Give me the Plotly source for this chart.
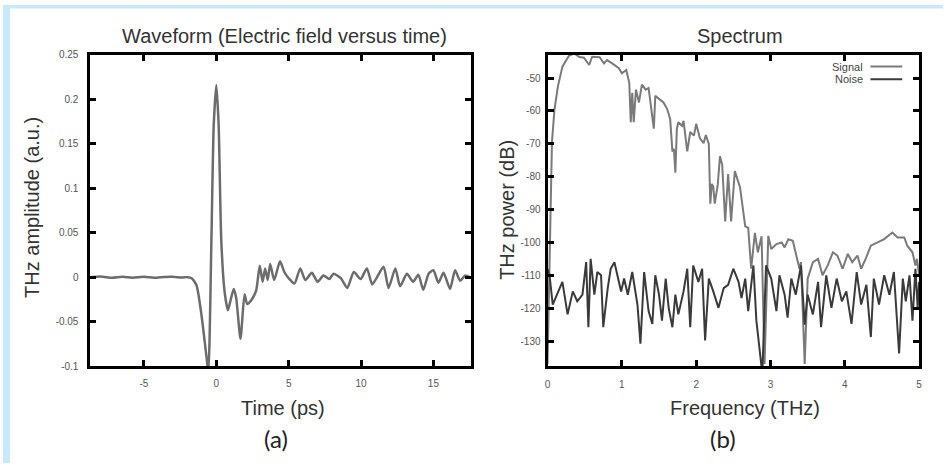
import plotly.graph_objects as go

# waveform (a)
time_ps = [-8.7, -8.0, -7.2, -6.5, -5.8, -5.0, -4.3, -3.6, -3.0, -2.4, -2.0, -1.7,
           -1.37, -1.03, -0.69, -0.55, -0.34, -0.18, 0.0, 0.16, 0.34, 0.57, 0.8, 0.98,
           1.2, 1.37, 1.67, 1.95, 2.13, 2.4, 2.75, 3.0, 3.2, 3.37, 3.55, 3.72, 4.0, 4.4,
           4.7, 5.0, 5.4, 5.8, 6.15, 6.6, 7.0, 7.4, 7.8, 8.1, 8.6, 9.05, 9.5, 9.97, 10.4,
           10.77, 11.1, 11.56, 11.9, 12.37, 12.7, 13.17, 13.6, 13.96, 14.3, 14.67, 15.0,
           15.35, 15.7, 16.15, 16.5, 16.85, 17.2, 17.6]
amplitude = [0.0, 0.0008, -0.0005, 0.0006, -0.0004, 0.0005, -0.0006, 0.0004, 0.0007,
             -0.0003, 0.0002, -0.001, -0.009, -0.042, -0.088, -0.106, 0.042, 0.171, 0.216,
             0.171, 0.042, -0.016, -0.037, -0.026, -0.013, -0.023, -0.069, -0.019, -0.03,
             -0.026, -0.015, 0.013, -0.005, 0.01, -0.003, 0.015, -0.003, 0.018, 0.006,
             -0.001, -0.007, 0.01, -0.003, 0.005, -0.005, 0.002, -0.002, 0.004, -0.001,
             -0.012, 0.006, -0.002, 0.01, -0.008, 0.0, 0.012, -0.012, 0.01, -0.01, 0.004,
             -0.005, 0.003, -0.014, 0.004, 0.008, -0.006, 0.005, -0.013, 0.008, -0.004,
             0.002, -0.001]

# spectrum (b)
freq_sig = [0.0, 0.015, 0.027, 0.04, 0.06, 0.094, 0.14, 0.2, 0.29, 0.36, 0.43, 0.49, 0.56,
            0.6, 0.7, 0.76, 0.8, 0.87, 0.96, 1.0, 1.06, 1.1, 1.12, 1.14, 1.16, 1.19, 1.23,
            1.27, 1.32, 1.36, 1.43, 1.45, 1.5, 1.56, 1.61, 1.65, 1.68, 1.7, 1.72, 1.74,
            1.76, 1.81, 1.83, 1.88, 1.92, 1.97, 2.0, 2.05, 2.1, 2.13, 2.17, 2.19, 2.21,
            2.23, 2.25, 2.29, 2.32, 2.35, 2.39, 2.43, 2.47, 2.52, 2.59, 2.66, 2.7, 2.74,
            2.79, 2.83, 2.88, 2.92, 2.97, 3.01, 3.08, 3.15, 3.19, 3.24, 3.3, 3.35, 3.39,
            3.41, 3.46, 3.5, 3.57, 3.64, 3.7, 3.77, 3.84, 3.9, 3.97, 4.04, 4.1, 4.17, 4.22,
            4.28, 4.35, 4.44, 4.53, 4.64, 4.71, 4.8, 4.84, 4.91, 4.95, 4.97, 5.0]
signal_db = [-137, -120, -99, -84, -69.3, -59.4, -52.5, -46.5, -43.1, -42.5, -43.6, -43.8,
             -46, -43.5, -43.6, -45.5, -44.5, -45.5, -47, -48.5, -47.5, -51.5, -63.4, -54.5,
             -63.4, -53.5, -57.4, -52, -53.5, -53, -65.4, -55.4, -56.4, -57.4, -59.4, -62.4,
             -72.3, -71.5, -78.8, -65.4, -63.4, -64.5, -63, -72.3, -66.4, -67.5, -63.9, -68.3,
             -69.8, -67.3, -70, -88.2, -82.2, -83, -88.2, -82.5, -73.8, -76.3, -93.6, -79.2,
             -93.6, -78.3, -83.2, -95.1, -95.6, -108, -97.1, -103, -98.1, -137, -98, -102,
             -100.5, -100, -101.5, -99, -99.5, -104, -108, -106, -137, -111, -106, -105,
             -110, -107, -103, -104, -108, -103.5, -106, -104, -108, -105, -101, -100, -99,
             -97, -98.5, -98.5, -101, -103, -107, -105, -110]

freq_noise = [0.0, 0.027, 0.07, 0.13, 0.2, 0.27, 0.34, 0.4, 0.47, 0.52, 0.55, 0.58, 0.63,
              0.67, 0.72, 0.75, 0.81, 0.85, 0.9, 0.94, 0.99, 1.03, 1.08, 1.14, 1.21, 1.25,
              1.3, 1.36, 1.41, 1.45, 1.5, 1.54, 1.59, 1.63, 1.68, 1.72, 1.76, 1.83, 1.88,
              1.92, 1.96, 2.03, 2.08, 2.12, 2.17, 2.23, 2.3, 2.37, 2.43, 2.5, 2.57, 2.61,
              2.66, 2.7, 2.77, 2.81, 2.86, 2.89, 2.94, 3.01, 3.08, 3.12, 3.19, 3.23, 3.28,
              3.34, 3.41, 3.46, 3.5, 3.57, 3.64, 3.68, 3.75, 3.82, 3.89, 3.96, 4.02, 4.09,
              4.16, 4.22, 4.29, 4.35, 4.39, 4.46, 4.53, 4.6, 4.66, 4.73, 4.78, 4.82, 4.87,
              4.91, 4.95, 4.98, 5.0]
noise_db = [-108, -110, -118.9, -115.9, -112, -121.9, -114.9, -117.9, -115.9, -106, -125.8,
            -105, -115.9, -109, -110, -125.8, -113.9, -108, -106, -110, -114.9, -111, -115.9,
            -109, -118.9, -130.8, -109, -120.9, -124.8, -110, -115.9, -123.8, -111, -119.9,
            -125.8, -115.9, -121.9, -114.9, -108, -125.8, -107, -112, -108, -129.8, -111,
            -114.9, -119.9, -113.9, -112.9, -108, -112, -116.9, -111, -120.9, -107, -123.8,
            -133.8, -140, -107, -111, -120.9, -110, -115.9, -122.9, -111, -115.9, -107, -125,
            -115.9, -121.9, -112, -125.8, -110, -119.9, -111, -117.9, -114.9, -124.8, -109,
            -118.9, -112.9, -128.8, -111, -118.9, -110, -115.9, -109, -133.8, -111, -117.9,
            -110, -123.8, -108, -119.9, -112]

assert len(time_ps) == len(amplitude)
assert len(freq_sig) == len(signal_db)
assert len(freq_noise) == len(noise_db)

wave_xticks = [-5, 0, 5, 10, 15]
wave_xtext = ["-5", "0", "5", "10", "15"]
wave_yticks = [0.25, 0.2, 0.15, 0.1, 0.05, 0, -0.05, -0.1]
wave_ytext = ["0.25", "0.2", "0.15", "0.1", "0.05", "0", "-0.05", "-0.1"]
spec_xticks = [0, 1, 2, 3, 4, 5]
spec_xtext = ["0", "1", "2", "3", "4", "5"]
spec_yticks = [-50, -60, -70, -80, -90, -100, -110, -120, -130]
spec_ytext = ["-50", "-60", "-70", "-80", "-90", "-100", "-110", "-120", "-130"]

W, H = 946, 469
BLUE = "#c8e9f9"
FONT = "Liberation Sans"


def px(x):
    return x / W


def py(y):
    return 1 - y / H


fig = go.Figure()
fig.add_trace(go.Scatter(x=time_ps, y=amplitude, mode="lines", xaxis="x", yaxis="y",
                         line=dict(color="#6c6c6c", width=2.5, shape="spline", smoothing=0.6)))
fig.add_trace(go.Scatter(x=freq_sig, y=signal_db, mode="lines", name="Signal", xaxis="x2", yaxis="y2",
                         line=dict(color="#7a7a7a", width=2)))
fig.add_trace(go.Scatter(x=freq_noise, y=noise_db, mode="lines", name="Noise", xaxis="x2", yaxis="y2",
                         line=dict(color="#3a3a3a", width=2)))

axis_style = dict(showline=True, linecolor="black", linewidth=3, mirror="allticks",
                  ticks="inside", ticklen=6, tickwidth=2.5, tickcolor="black",
                  showgrid=False, zeroline=False,
                  tickfont=dict(family=FONT, size=10, color="#555"))

fig.update_layout(
    width=W, height=H, autosize=False,
    margin=dict(l=0, r=0, t=0, b=0),
    paper_bgcolor="white", plot_bgcolor="white",
    showlegend=False,
    xaxis=dict(domain=[px(88), px(471)], range=[-8.7, 17.6], anchor="y",
               tickvals=wave_xticks, ticktext=wave_xtext, ticklabelstandoff=6, **axis_style),
    yaxis=dict(domain=[py(370), py(51)], range=[-0.1, 0.25], anchor="x",
               tickvals=wave_yticks, ticktext=wave_ytext, ticklabelstandoff=7, **axis_style),
    xaxis2=dict(domain=[px(548), px(922)], range=[0, 5], anchor="y2",
                tickvals=spec_xticks, ticktext=spec_xtext, ticklabelstandoff=7, **axis_style),
    yaxis2=dict(domain=[py(370), py(51)], range=[-137.7, -42.9], anchor="x2",
                tickvals=spec_yticks, ticktext=spec_ytext, ticklabelstandoff=2, **axis_style),
)

# titles and labels
txt = dict(family=FONT, size=20, color="#333")
labels = [
    ("Waveform (Electric field versus time)", 283, 32, 0),
    ("Spectrum", 742, 32, 0),
    ("THz amplitude (a.u.)", 29, 207, -90),
    ("THz power (dB)", 507, 210, -90),
    ("Time (ps)", 282, 413, 0),
    ("Frequency (THz)", 747, 413, 0),
]
for text, x, y, ang in labels:
    fig.add_annotation(text=text, x=px(x), y=py(y), xref="paper", yref="paper",
                       showarrow=False, textangle=ang, font=txt,
                       xanchor="center", yanchor="middle")

for text, x in [("(a)", 275), ("(b)", 725)]:
    fig.add_annotation(text=text, x=px(x), y=py(444), xref="paper", yref="paper",
                       showarrow=False, font=dict(family="Lato", size=24, color="#222"),
                       xanchor="center", yanchor="middle")

# gnuplot style key
for text, y, col in [("Signal", 63, "#7a7a7a"), ("Noise", 76, "#3a3a3a")]:
    fig.add_annotation(text=text, x=px(867), y=py(y), xref="paper", yref="paper",
                       showarrow=False, font=dict(family=FONT, size=11, color="#444"),
                       xanchor="right", yanchor="middle")
    fig.add_shape(type="line", xref="paper", yref="paper", x0=px(873), x1=px(905),
                  y0=py(y), y1=py(y), line=dict(color=col, width=2))

# light blue frame on top and left
fig.add_shape(type="rect", xref="paper", yref="paper", x0=0, x1=px(7), y0=0, y1=1,
              fillcolor=BLUE, line=dict(width=0), layer="below")
fig.add_shape(type="rect", xref="paper", yref="paper", x0=0, x1=1, y0=py(3.5), y1=1,
              fillcolor=BLUE, line=dict(width=0), layer="below")

# page body has a default margin, drop it so the figure sits at 0,0
fig.write_html("out.html", config={"displayModeBar": False},
               post_script="document.body.style.margin='0';")
